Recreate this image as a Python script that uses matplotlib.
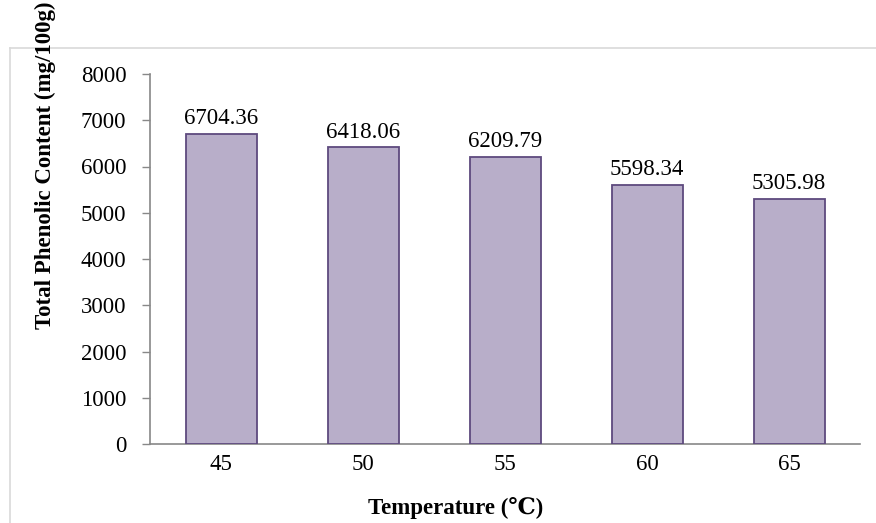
import numpy as np
import matplotlib.pyplot as plt
from matplotlib.lines import Line2D

temps = ["45", "50", "55", "60", "65"]
tpc = [6704.36, 6418.06, 6209.79, 5598.34, 5305.98]
yticks = [0, 1000, 2000, 3000, 4000, 5000, 6000, 7000, 8000]

plt.rcParams['font.family'] = ['Liberation Serif', 'DejaVu Serif']
fs = 16.5

W, H = 876, 523
fig = plt.figure(figsize=(W / 100, H / 100), dpi=100)
ax = fig.add_axes([150 / W, 1 - 444 / H, 710 / W, 370 / H])

x = np.arange(len(temps))
ax.bar(x, tpc, width=0.5, color="#b8aec9", edgecolor="#5e4a7e", linewidth=1.3, zorder=3)
for xi, v in zip(x, tpc):
    ax.text(xi, v + 100, f"{v:.2f}", ha="center", va="bottom", fontsize=fs)

ax.set_xlim(-0.5, len(temps) - 0.5)
ax.set_ylim(0, 8000)
ax.set_xticks(x)
ax.set_xticklabels(temps, fontsize=fs)
ax.set_yticks(yticks)
ax.set_yticklabels([str(t) for t in yticks], fontsize=fs)
ax.tick_params(axis="x", length=0, pad=7)
ax.tick_params(axis="y", length=6, color="#888888", width=1, pad=11)

for s in ["top", "right"]:
    ax.spines[s].set_visible(False)
for s in ["left", "bottom"]:
    ax.spines[s].set_color("#888888")
    ax.spines[s].set_linewidth(1.2)

fig.text(456 / W, 1 - 508 / H, "Temperature (\u2103)", ha="center", va="center",
         fontsize=fs, fontweight="bold")
fig.text(45 / W, 1 - 329 / H, "Total Phenolic Content (mg/100g)", rotation=90,
         ha="center", va="bottom", fontsize=fs, fontweight="bold")

# light outer frame of the chart area
fig.add_artist(Line2D([10 / W, 10 / W], [0, 1 - 48 / H], transform=fig.transFigure,
                      color="#d9d9d9", linewidth=1.2))
fig.add_artist(Line2D([10 / W, 1], [1 - 48 / H, 1 - 48 / H], transform=fig.transFigure,
                      color="#d9d9d9", linewidth=1.2))

fig.savefig("out.png", dpi=100)
